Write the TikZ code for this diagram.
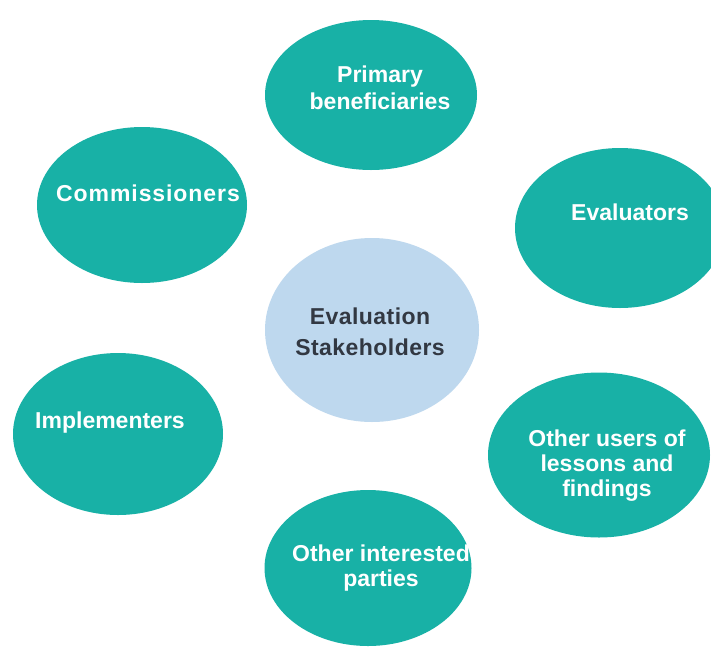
\documentclass[tikz,border=0pt]{standalone}
\usepackage{fontspec}
\setmainfont{Liberation Sans}
\usetikzlibrary{shapes.geometric}

\definecolor{tealfill}{RGB}{24,177,166}
\definecolor{paleblue}{RGB}{190,216,238}
\definecolor{inkgray}{RGB}{50,56,66}

\tikzset{
  blob/.style={ellipse, fill=tealfill, inner sep=0pt},
  hub/.style={ellipse, fill=paleblue, inner sep=0pt},
  lbl/.style={text=white, font=\fontsize{23}{25}\selectfont\bfseries, align=center, inner sep=0pt},
}

\begin{document}
\begin{tikzpicture}[x=1pt, y=-1pt]
\fill[white] (0,0) rectangle (711,646);
\useasboundingbox (0,0) rectangle (711,646);

% the six groups round the hub
\node[blob, minimum width=212pt, minimum height=150pt] (prim) at (371,95) {};
\node[blob, minimum width=210pt, minimum height=156pt] (comm) at (142,205) {};
\node[blob, minimum width=210pt, minimum height=160pt] (eval) at (620,228) {};
\node[blob, minimum width=210pt, minimum height=162pt] (impl) at (118,434) {};
\node[blob, minimum width=222pt, minimum height=165pt] (users) at (599,455) {};
\node[blob, minimum width=207pt, minimum height=156pt] (other) at (368,568) {};
\node[hub, minimum width=214pt, minimum height=184pt] (hub) at (372,330) {};

% labels
\node[lbl, font=\fontsize{23}{27}\selectfont\bfseries] (primtext) at (380,88) {Primary\\beneficiaries};
\node[lbl, font=\fontsize{23}{24}\selectfont\bfseries\addfontfeatures{LetterSpace=4}] (commtext) at (148,193) {Commissioners};
\node[lbl] (evaltext) at (630,212) {Evaluators};
\node[lbl] (impltext) at (110,423) {Implementers};
\node[lbl] (userstext) at (607,466) {Other users of\\lessons and\\findings};
\node[lbl] (othertext) at (381,568) {Other interested\\parties};
\node[lbl, text=inkgray, font=\fontsize{23}{31}\selectfont\bfseries\addfontfeatures{LetterSpace=2}] (hubtext) at (370,332) {Evaluation\\Stakeholders};
\end{tikzpicture}
\end{document}
